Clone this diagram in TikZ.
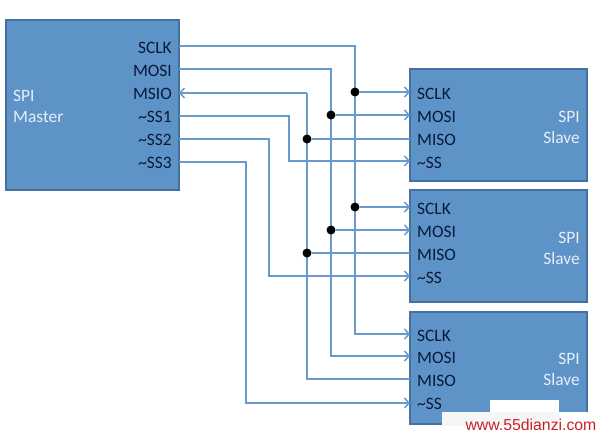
\documentclass[tikz,border=0pt]{standalone}
\usepackage{fontspec}
\setmainfont{Carlito}
\usetikzlibrary{arrows.meta}
\definecolor{boxfill}{HTML}{5E93C8}
\definecolor{boxedge}{HTML}{44719F}
\definecolor{wirecol}{HTML}{6A9ACB}
\definecolor{darktext}{HTML}{0A1A38}
\definecolor{lighttext}{HTML}{E6EFF8}
\definecolor{wmred}{HTML}{C8202A}
\tikzset{
  x=1pt,y=-1pt,
  block/.style={draw=boxedge,line width=1.5pt,fill=boxfill,minimum width=0,inner sep=0},
  port/.style={font=\fontsize{17.4}{17.4}\selectfont,text=darktext,inner sep=0},
  rport/.style={port,anchor=east},
  lport/.style={port,anchor=west},
  lbl/.style={font=\fontsize{17.4}{21}\selectfont,text=lighttext,inner sep=0,align=left},
  wire/.style={draw=wirecol,line width=1.5pt},
  awire/.style={wire,-{Straight Barb[length=4.5pt,width=10pt,line width=1.5pt]}},
  dot/.style={circle,fill=black,inner sep=0,minimum size=9pt},
}
\begin{document}
\begin{tikzpicture}
\useasboundingbox (0,0) rectangle (600,436);
% blocks
\node[block,minimum width=173pt,minimum height=170pt] (master) at (92.5,105) {};
\node[block,minimum width=177pt,minimum height=112pt] (s1) at (498.5,125) {};
\node[block,minimum width=177pt,minimum height=112pt] (s2) at (498.5,246) {};
\node[block,minimum width=177pt,minimum height=112pt] (s3) at (498.5,368) {};
% master labels
\node[lbl,anchor=west] (mname) at (13,106.5) {SPI\\Master};
\node[rport] (msclk) at (172,47.5) {SCLK};
\node[rport] (mmosi) at (172,71) {MOSI};
\node[rport] (mmsio) at (172,94) {MSIO};
\node[rport] (mss1) at (172,117) {\char`\~SS1};
\node[rport] (mss2) at (172,140) {\char`\~SS2};
\node[rport] (mss3) at (172,163) {\char`\~SS3};
% slave labels
\foreach \s/\a/\b/\c/\d/\n in {a/94/117/140/163/127,b/209/232/255/278/248,c/336/358/381/404/369}{
  \node[lport] (\s sclk) at (417,\a) {SCLK};
  \node[lport] (\s mosi) at (417,\b) {MOSI};
  \node[lport] (\s miso) at (417,\c) {MISO};
  \node[lport] (\s ss) at (417,\d) {\char`\~SS};
  \node[lbl,align=right,anchor=east] (\s name) at (580,\n) {SPI\\Slave};
}
% port coordinates
\coordinate (pm1) at (179,46);
\coordinate (pm2) at (179,69);
\coordinate (pm3) at (179,93);
\coordinate (pm4) at (179,116);
\coordinate (pm5) at (179,139);
\coordinate (pm6) at (179,162);
\coordinate (a1) at (410,92);
\coordinate (a2) at (410,115);
\coordinate (a3) at (410,139);
\coordinate (a4) at (410,161);
\coordinate (b1) at (410,207);
\coordinate (b2) at (410,230);
\coordinate (b3) at (410,253);
\coordinate (b4) at (410,276);
\coordinate (c1) at (410,334);
\coordinate (c2) at (410,356);
\coordinate (c3) at (410,379);
\coordinate (c4) at (410,403);
\coordinate (k1) at (355,46);
\coordinate (k2) at (331,69);
\coordinate (k3) at (307,93);
\coordinate (k4) at (289,116);
\coordinate (k4b) at (289,161);
\coordinate (k5) at (269,139);
\coordinate (k5b) at (269,276);
\coordinate (k6) at (246,162);
\coordinate (k6b) at (246,403);
\coordinate (k1b) at (355,334);
\coordinate (k2b) at (331,356);
\coordinate (k3b) at (307,379);
% wires
\draw[awire] (pm1) -- (k1) -- (k1b) -- (c1);
\draw[awire] (pm2) -- (k2) -- (k2b) -- (c2);
\draw[awire] (k3) -- (pm3);
\draw[wire,line join=miter] (k3) -- (k3b) -- (c3);
\draw[awire] (pm4) -- (k4) -- (k4b) -- (a4);
\draw[awire] (pm5) -- (k5) -- (k5b) -- (b4);
\draw[awire] (pm6) -- (k6) -- (k6b) -- (c4);
% dots
\node[dot] (d1) at (355,92) {};
\node[dot] (d2) at (331,115) {};
\node[dot] (d3) at (307,139) {};
\node[dot] (d4) at (355,207) {};
\node[dot] (d5) at (331,230) {};
\node[dot] (d6) at (307,253) {};
% branches
\draw[awire] (d1) -- (a1);
\draw[awire] (d2) -- (a2);
\draw[wire] (d3) -- (a3);
\draw[awire] (d4) -- (b1);
\draw[awire] (d5) -- (b2);
\draw[wire] (d6) -- (b3);
% watermark
\fill[white] (490,400) rectangle (559,412);
\fill[white!96!black] (442,412) rectangle (600,426);
\fill[white] (559,412) rectangle (600,436);
\node[inner sep=0,anchor=center,text=wmred,font=\fontsize{15.8}{15.8}\selectfont\fontspec{Liberation Sans}] (wm) at (531,425) {www.55dianzi.com};
\end{tikzpicture}
\end{document}
